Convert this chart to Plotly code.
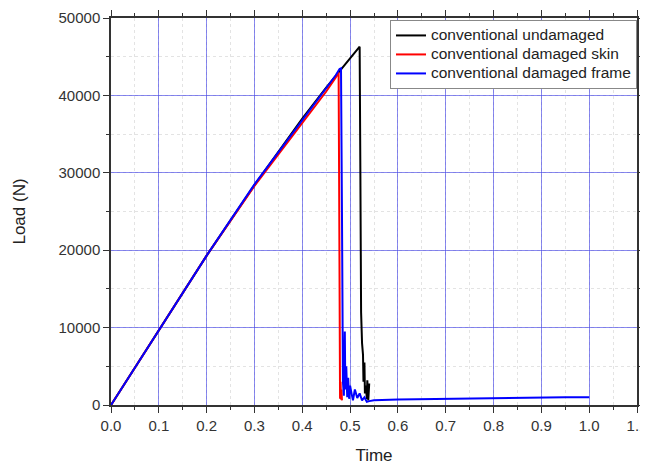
import plotly.graph_objects as go

# Data
t_undamaged = [0.0, 0.1, 0.2, 0.3, 0.4, 0.45, 0.5, 0.512, 0.518, 0.520, 0.5215, 0.523,
               0.525, 0.527, 0.528, 0.530, 0.531, 0.533, 0.535, 0.536, 0.538, 0.540]
load_undamaged = [0, 9700, 19300, 28400, 37000, 41000, 44800, 45800, 46200, 46300, 30000, 12000,
                  8000, 6500, 3000, 5500, 1500, 2500, 800, 3200, 600, 2800]

t_skin = [0.0, 0.1, 0.2, 0.3, 0.4, 0.45, 0.470, 0.476, 0.477, 0.478, 0.479, 0.480, 0.481, 0.482, 0.483]
load_skin = [0, 9700, 19300, 28300, 36400, 40500, 42300, 43000, 30000, 8000, 800, 3000, 700, 2000, 600]

t_frame = [0.0, 0.1, 0.2, 0.3, 0.4, 0.45, 0.470, 0.478, 0.481, 0.483, 0.485, 0.487, 0.489, 0.490,
           0.492, 0.494, 0.496, 0.498, 0.500, 0.503, 0.506, 0.510, 0.515, 0.520, 0.525, 0.530, 0.535,
           0.540, 0.550, 0.600, 0.700, 0.800, 0.870, 0.950, 1.000]
load_frame = [0, 9700, 19300, 28500, 36800, 40800, 42600, 43400, 43500, 25000, 3000, 1200, 9500, 2000,
              5000, 1000, 3500, 800, 2500, 1500, 600, 2000, 900, 1500, 600, 1000, 400,
              500, 600, 700, 800, 900, 1000, 1000, 1000]

series_names = ["conventional undamaged", "conventional damaged skin", "conventional damaged frame"]

x_ticks = [0.0, 0.1, 0.2, 0.3, 0.4, 0.5, 0.6, 0.7, 0.8, 0.9, 1.0, 1.1]
x_tick_labels = ["0.0", "0.1", "0.2", "0.3", "0.4", "0.5", "0.6", "0.7", "0.8", "0.9", "1.0", "1.1"]
y_ticks = [0, 10000, 20000, 30000, 40000, 50000]
y_tick_labels = ["0", "10000", "20000", "30000", "40000", "50000"]

FONT = "Liberation Sans, Arial, sans-serif"


def legend_label(name):
    # larger glyphs than the legend's base font, so rows stay compact
    return f'<span style="font-size:15.5px">{name}</span>'


fig = go.Figure()
fig.add_trace(go.Scatter(x=t_undamaged, y=load_undamaged, mode="lines",
                         name=legend_label(series_names[0]), line=dict(color="black", width=2)))
fig.add_trace(go.Scatter(x=t_skin, y=load_skin, mode="lines",
                         name=legend_label(series_names[1]), line=dict(color="red", width=2)))
fig.add_trace(go.Scatter(x=t_frame, y=load_frame, mode="lines",
                         name=legend_label(series_names[2]), line=dict(color="blue", width=2)))

axis_common = dict(
    showline=True, linecolor="#333333", linewidth=1.5, mirror="allticks",
    ticks="outside", ticklen=6, tickwidth=1.2, tickcolor="#333333",
    showgrid=True, gridcolor="rgba(60,60,230,0.6)", gridwidth=1,
    zeroline=False, automargin=False,
    tickfont=dict(family=FONT, size=15, color="#333333"),
)

fig.update_xaxes(
    range=[0, 1.1], tickvals=x_ticks, ticktext=x_tick_labels, ticklabeloverflow="allow",
    title=dict(text="Time", font=dict(family=FONT, size=17, color="#222222"), standoff=16),
    minor=dict(dtick=0.05, ticks="outside", ticklen=3, tickcolor="#333333",
               showgrid=True, gridcolor="rgba(200,200,200,0.5)", griddash="dot", gridwidth=1),
    **axis_common,
)
fig.update_yaxes(
    range=[0, 50000], tickvals=y_ticks, ticktext=y_tick_labels,
    title=dict(text="Load (N)", font=dict(family=FONT, size=17, color="#222222"), standoff=29),
    minor=dict(dtick=5000, ticks="outside", ticklen=3, tickcolor="#333333",
               showgrid=True, gridcolor="rgba(200,200,200,0.5)", griddash="dot", gridwidth=1),
    **axis_common,
)

# page body has an 8px margin, so the figure is offset to compensate
fig.update_layout(
    width=648, height=457,
    margin=dict(l=103, r=19, t=10, b=60),
    paper_bgcolor="white", plot_bgcolor="white",
    legend=dict(x=1.0, y=0.995, xanchor="right", yanchor="top",
                bgcolor="white", bordercolor="#888888", borderwidth=1,
                font=dict(family=FONT, size=11.5, color="#222222"),
                tracegroupgap=0, itemwidth=30),
    showlegend=True,
)

fig.write_html("out.html")
